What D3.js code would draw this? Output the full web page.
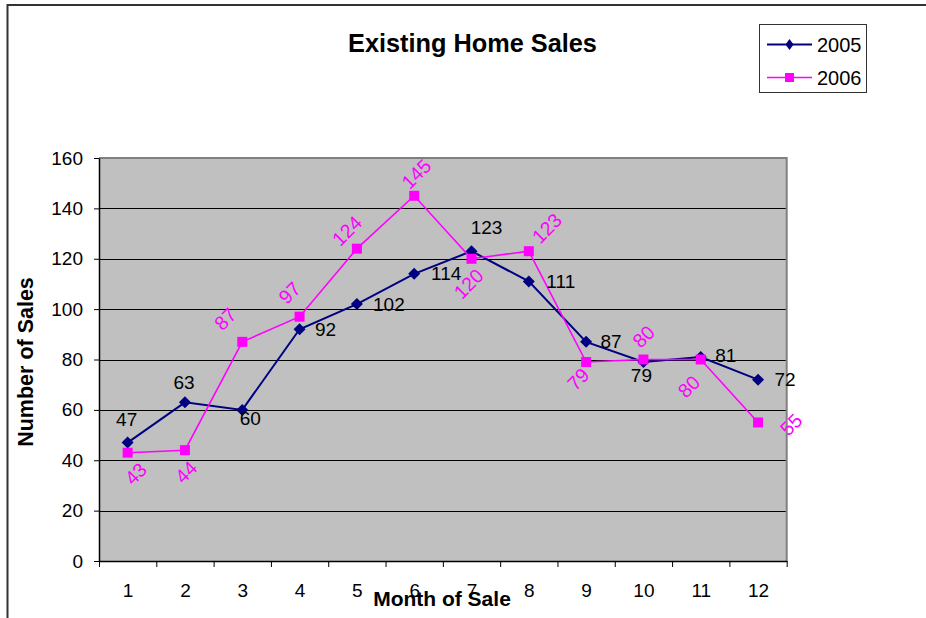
<!DOCTYPE html>
<html>
<head>
<meta charset="utf-8">
<script src="https://cdn.jsdelivr.net/npm/d3@7"></script>
<style>
  html, body { margin: 0; padding: 0; background: #fff; }
  svg { display: block; font-family: "Liberation Sans", Arial, sans-serif; }
</style>
</head>
<body>
<svg id="chart" width="926" height="618"></svg>
<script>
// Monthly existing home sales
const months = [1, 2, 3, 4, 5, 6, 7, 8, 9, 10, 11, 12];
const sales2005 = [47, 63, 60, 92, 102, 114, 123, 111, 87, 79, 81, 72];
const sales2006 = [43, 44, 87, 97, 124, 145, 120, 123, 79, 80, 80, 55];
const yTicks = [0, 20, 40, 60, 80, 100, 120, 140, 160];
const seriesNames = ["2005", "2006"];

// Label nudges (px, relative to each point) so the value labels avoid the lines
const nudge2005 = [[-1, -23], [-1, -20], [8, 9], [26, 0], [32, 0], [32, 0],
                   [15, -24], [32, 0], [25, 0], [-2, 13], [25, -1], [27, 0]];
const nudge2006 = [[8, 21], [1, 22], [-17, -23], [-10, -24], [-10, -18], [2, -22],
                   [-3, 25], [18, -23], [-8, 17], [0, -23], [-12, 27], [33, 2]];

const NAVY = "#000080", MAGENTA = "#FF00FF";
const svg = d3.select("#chart");

// Outer chart frame (runs off the right and bottom edges)
svg.append("rect")
  .attr("x", 7.5).attr("y", 5).attr("width", 1000).attr("height", 1000)
  .attr("fill", "none").attr("stroke", "#333").attr("stroke-width", 2);

const plot = { left: 99, right: 786.7, top: 158, bottom: 561 };

const x = d3.scaleLinear().domain([0.5, 12.5]).range([plot.left, plot.right]);
const y = d3.scaleLinear().domain([0, 160]).range([plot.bottom, plot.top]);

// Plot area background
svg.append("rect")
  .attr("x", plot.left).attr("y", plot.top)
  .attr("width", plot.right - plot.left).attr("height", plot.bottom - plot.top)
  .attr("fill", "#C0C0C0");

// Gridlines
svg.append("g").selectAll("line")
  .data(yTicks.filter(v => v > 0 && v < 160))
  .join("line")
  .attr("x1", plot.left).attr("x2", plot.right)
  .attr("y1", d => Math.round(y(d)) + 0.5).attr("y2", d => Math.round(y(d)) + 0.5)
  .attr("stroke", "#000").attr("stroke-width", 1);

// Gray border on top and right of the plot area
svg.append("path")
  .attr("d", `M${plot.left},${plot.top}H${plot.right}V${plot.bottom}`)
  .attr("fill", "none").attr("stroke", "#808080").attr("stroke-width", 2);

// Y axis
const yAxis = svg.append("g")
  .attr("transform", `translate(${plot.left},0)`)
  .call(d3.axisLeft(y).tickValues(yTicks).tickSize(5).tickPadding(11).tickSizeOuter(0));
yAxis.select(".domain").attr("stroke", "#000").attr("stroke-width", 1.5);
yAxis.selectAll(".tick line").attr("stroke", "#000");
yAxis.selectAll("text").attr("font-size", 19).attr("fill", "#000")
  .attr("font-family", "'Liberation Sans', Arial, sans-serif");

// X axis: tick marks on category boundaries, labels at category centres
const bounds = d3.range(0, 13).map(i => i + 0.5);
const xTicks = svg.append("g")
  .attr("transform", `translate(0,${plot.bottom})`)
  .call(d3.axisBottom(x).tickValues(bounds).tickSize(6).tickSizeOuter(0).tickFormat(""));
xTicks.select(".domain").attr("stroke", "#000").attr("stroke-width", 1.5);
xTicks.selectAll(".tick line").attr("stroke", "#000");

const xLabels = svg.append("g")
  .attr("transform", `translate(0,${plot.bottom})`)
  .call(d3.axisBottom(x).tickValues(months).tickSize(0).tickPadding(0));
xLabels.select(".domain").remove();
xLabels.selectAll("text")
  .attr("y", 36).attr("dy", 0)
  .attr("font-size", 19).attr("fill", "#000")
  .attr("font-family", "'Liberation Sans', Arial, sans-serif");

// Series lines
const line = d3.line().x((d, i) => x(months[i])).y(d => y(d));

svg.append("path").datum(sales2005)
  .attr("d", line).attr("fill", "none")
  .attr("stroke", NAVY).attr("stroke-width", 2);

svg.append("path").datum(sales2006)
  .attr("d", line).attr("fill", "none")
  .attr("stroke", MAGENTA).attr("stroke-width", 1.6);

// Markers
const diamond = (cx, cy, r) => `M${cx},${cy - r}L${cx + r},${cy}L${cx},${cy + r}L${cx - r},${cy}Z`;

svg.append("g").selectAll("path")
  .data(sales2005).join("path")
  .attr("d", (d, i) => diamond(x(months[i]), y(d), 6))
  .attr("fill", NAVY);

svg.append("g").selectAll("rect")
  .data(sales2006).join("rect")
  .attr("x", (d, i) => x(months[i]) - 5).attr("y", d => y(d) - 5)
  .attr("width", 10).attr("height", 10)
  .attr("fill", MAGENTA);

// Value labels, 2005 (horizontal)
svg.append("g").selectAll("text")
  .data(sales2005).join("text")
  .attr("x", (d, i) => x(months[i]) + nudge2005[i][0])
  .attr("y", (d, i) => y(d) + nudge2005[i][1])
  .attr("text-anchor", "middle").attr("dominant-baseline", "central")
  .attr("font-size", 19).attr("fill", "#000")
  .text(d => d);

// Value labels, 2006 (rotated 45 degrees)
svg.append("g").selectAll("text")
  .data(sales2006).join("text")
  .attr("transform", (d, i) => {
    const cx = x(months[i]) + nudge2006[i][0];
    const cy = y(d) + nudge2006[i][1];
    return `translate(${cx},${cy}) rotate(-45)`;
  })
  .attr("text-anchor", "middle").attr("dominant-baseline", "central")
  .attr("font-size", 19.5).attr("fill", MAGENTA)
  .text(d => d);

// Title
svg.append("text")
  .attr("x", 472.5).attr("y", 52)
  .attr("text-anchor", "middle")
  .attr("font-size", 25.3).attr("font-weight", "bold").attr("fill", "#000")
  .text("Existing Home Sales");

// Axis titles
svg.append("text")
  .attr("x", 442).attr("y", 606)
  .attr("text-anchor", "middle")
  .attr("font-size", 21).attr("font-weight", "bold").attr("fill", "#000")
  .text("Month of Sale");

svg.append("text")
  .attr("transform", "translate(33,362) rotate(-90)")
  .attr("text-anchor", "middle")
  .attr("font-size", 21.5).attr("font-weight", "bold").attr("fill", "#000")
  .text("Number of Sales");

// Legend
const legend = svg.append("g");
legend.append("rect")
  .attr("x", 759.5).attr("y", 24.5).attr("width", 107).attr("height", 68)
  .attr("fill", "#fff").attr("stroke", "#333").attr("stroke-width", 1);

const legendRows = [
  { name: seriesNames[0], color: NAVY, y: 44.5, marker: "diamond" },
  { name: seriesNames[1], color: MAGENTA, y: 77.5, marker: "square" }
];
legendRows.forEach(r => {
  legend.append("line")
    .attr("x1", 767).attr("x2", 812).attr("y1", r.y).attr("y2", r.y)
    .attr("stroke", r.color).attr("stroke-width", r.marker === "diamond" ? 2 : 1.6);
  if (r.marker === "diamond") {
    legend.append("path")
      .attr("d", `M789.5,${r.y - 5.5}L793.5,${r.y}L789.5,${r.y + 5.5}L785.5,${r.y}Z`)
      .attr("fill", r.color);
  } else {
    legend.append("rect")
      .attr("x", 785).attr("y", r.y - 4.5).attr("width", 9).attr("height", 9)
      .attr("fill", r.color);
  }
  legend.append("text")
    .attr("x", 817).attr("y", r.y + 7)
    .attr("font-size", 20).attr("fill", "#000")
    .text(r.name);
});
</script>
</body>
</html>
